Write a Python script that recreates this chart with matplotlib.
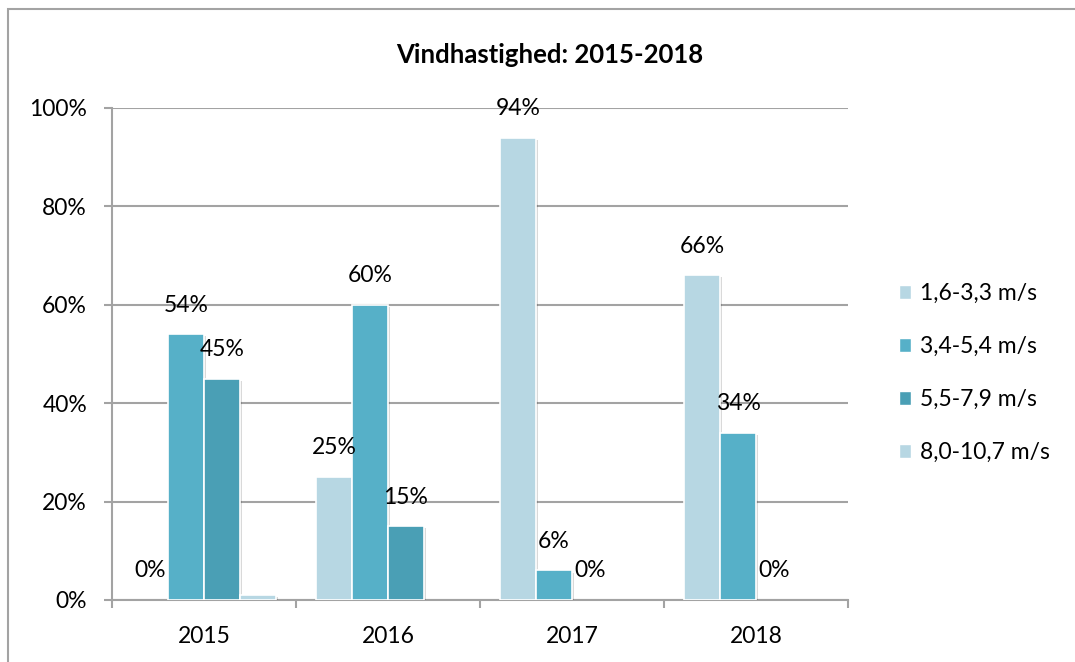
import numpy as np
import matplotlib
matplotlib.use("Agg")
from matplotlib import pyplot as plt
from matplotlib import patheffects as pe
from matplotlib.patches import Rectangle, Patch

plt.rcParams['font.family'] = ['Lato', 'DejaVu Sans']

# data
years = ["2015", "2016", "2017", "2018"]
series_names = ["1,6-3,3 m/s", "3,4-5,4 m/s", "5,5-7,9 m/s", "8,0-10,7 m/s"]
v_16_33 = [0.00, 0.25, 0.94, 0.66]
v_34_54 = [0.54, 0.60, 0.06, 0.34]
v_55_79 = [0.45, 0.15, 0.00, 0.00]
v_80_107 = [0.01, 0.00, 0.00, 0.00]
show_labels = [True, True, True, False]

colors = ["#B7D7E3", "#56B0C8", "#4A9FB5", "#B7D7E3"]
grey = "#A3A3A3"
fs = 16.5

fig = plt.figure(figsize=(10.75, 6.62), dpi=100)
ax = fig.add_axes([112/1075, 62/662, 736/1075, 492/662])

# open frame around the chart (cut at right/bottom like the screenshot)
fig.patches.append(Rectangle((8/1075, -0.1), 1.2, 1 - 9/662 + 0.1,
                             transform=fig.transFigure, fill=False,
                             edgecolor=grey, linewidth=1.5))

x = np.arange(len(years))
w = 0.196
data = [v_16_33, v_34_54, v_55_79, v_80_107]
shadow = [pe.SimplePatchShadow(offset=(1.5, -1.5), shadow_rgbFace="#000000", alpha=0.15), pe.Normal()]
for i, vals in enumerate(data):
    pos = x + (i - 1.5) * w
    bars = ax.bar(pos, vals, w, color=colors[i], edgecolor="white", linewidth=1.2, zorder=3)
    for b, v in zip(bars, vals):
        b.set_path_effects(shadow)
        if v == 0:
            b.set_visible(False)
    if show_labels[i]:
        for p, v in zip(pos, vals):
            ax.text(p, v + 0.059, f"{round(v * 100)}%", ha="center", va="center",
                    fontsize=fs, color="black", zorder=4)

ax.set_xlim(-0.5, 3.5)
ax.set_ylim(0, 1.0)
ax.set_yticks(np.arange(0, 1.01, 0.2))
ax.set_yticklabels([f"{int(round(t * 100))}%" for t in np.arange(0, 1.01, 0.2)], fontsize=fs)
ax.set_xticks(x)
ax.set_xticklabels(years, fontsize=fs)
ax.set_xticks(np.arange(-0.5, 3.6, 1), minor=True)
ax.tick_params(axis="x", which="major", length=0, pad=19)
ax.tick_params(axis="x", which="minor", length=6, color=grey, width=1.5)
ax.tick_params(axis="y", length=6, color=grey, width=1.5, pad=12)

ax.grid(axis="y", color=grey, linewidth=1.5, zorder=0)
ax.set_axisbelow(True)
for s in ["top", "right"]:
    ax.spines[s].set_visible(False)
for s in ["left", "bottom"]:
    ax.spines[s].set_color(grey)
    ax.spines[s].set_linewidth(1.5)

fig.text(550/1075, 1 - 55/662, "Vindhastighed: 2015-2018", ha="center", va="center",
         fontsize=18.5, fontweight="bold")

handles = [Patch(facecolor=c, edgecolor="white") for c in colors]
fig.legend(handles, series_names, loc="center left", bbox_to_anchor=(878/1075, 1 - 373/662),
           frameon=False, fontsize=fs, handlelength=0.55, handleheight=0.55,
           handletextpad=0.4, labelspacing=1.4)

fig.savefig("out.png", dpi=100)
